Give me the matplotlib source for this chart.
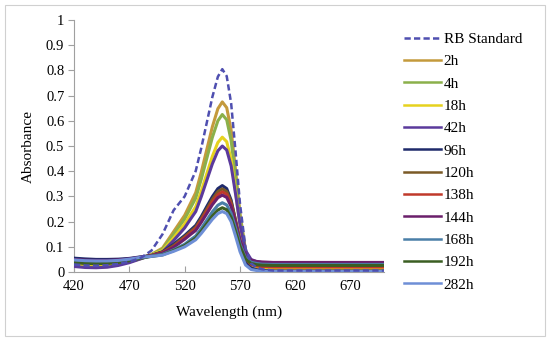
import matplotlib
matplotlib.use("Agg")
import matplotlib.pyplot as plt
from matplotlib.patches import Rectangle

wavelength = [420, 430, 440, 450, 460, 470, 480, 490, 500, 510, 520, 525, 530, 535, 540,
              545, 550, 554, 558, 562, 566, 570, 575, 580, 585, 590, 600, 650, 700]

rb_standard = [0.030, 0.026, 0.025, 0.027, 0.032, 0.041, 0.055, 0.085, 0.150, 0.245, 0.300, 0.351, 0.401, 0.492, 0.593,
               0.694, 0.775, 0.805, 0.777, 0.669, 0.477, 0.270, 0.094, 0.034, 0.018, 0.011, 0.006, 0.006, 0.006]
h2 = [0.035, 0.031, 0.030, 0.031, 0.035, 0.043, 0.054, 0.070, 0.095, 0.160, 0.225, 0.270, 0.315, 0.396, 0.486,
      0.576, 0.648, 0.675, 0.652, 0.562, 0.404, 0.231, 0.086, 0.036, 0.023, 0.017, 0.013, 0.013, 0.013]
h4 = [0.030, 0.026, 0.025, 0.027, 0.032, 0.041, 0.053, 0.069, 0.090, 0.150, 0.210, 0.252, 0.293, 0.368, 0.451,
      0.534, 0.600, 0.625, 0.604, 0.521, 0.375, 0.217, 0.083, 0.037, 0.025, 0.020, 0.016, 0.016, 0.016]
h18 = [0.028, 0.024, 0.023, 0.025, 0.030, 0.040, 0.053, 0.068, 0.085, 0.135, 0.190, 0.225, 0.259, 0.321, 0.390,
       0.459, 0.514, 0.535, 0.517, 0.446, 0.320, 0.183, 0.068, 0.028, 0.018, 0.013, 0.010, 0.010, 0.010]
h42 = [0.022, 0.018, 0.017, 0.019, 0.026, 0.037, 0.052, 0.066, 0.080, 0.125, 0.175, 0.208, 0.240, 0.299, 0.364,
       0.429, 0.481, 0.500, 0.484, 0.421, 0.309, 0.188, 0.085, 0.050, 0.041, 0.037, 0.034, 0.034, 0.034]
h96 = [0.055, 0.052, 0.050, 0.050, 0.051, 0.054, 0.060, 0.066, 0.080, 0.110, 0.145, 0.165, 0.185, 0.220, 0.260,
       0.299, 0.331, 0.343, 0.331, 0.285, 0.204, 0.116, 0.041, 0.016, 0.009, 0.006, 0.004, 0.004, 0.004]
h120 = [0.040, 0.036, 0.035, 0.036, 0.039, 0.046, 0.055, 0.065, 0.078, 0.105, 0.140, 0.159, 0.178, 0.212, 0.250,
        0.288, 0.319, 0.330, 0.319, 0.278, 0.204, 0.124, 0.056, 0.033, 0.027, 0.024, 0.022, 0.022, 0.022]
h138 = [0.045, 0.042, 0.040, 0.041, 0.044, 0.049, 0.057, 0.065, 0.077, 0.100, 0.135, 0.153, 0.172, 0.205, 0.241,
        0.278, 0.307, 0.318, 0.308, 0.267, 0.196, 0.118, 0.053, 0.030, 0.024, 0.022, 0.020, 0.020, 0.020]
h144 = [0.050, 0.047, 0.046, 0.046, 0.048, 0.052, 0.059, 0.064, 0.075, 0.098, 0.130, 0.148, 0.165, 0.197, 0.232,
        0.267, 0.295, 0.305, 0.296, 0.260, 0.196, 0.126, 0.067, 0.047, 0.042, 0.040, 0.038, 0.038, 0.038]
h168 = [0.042, 0.039, 0.037, 0.038, 0.041, 0.047, 0.056, 0.063, 0.070, 0.088, 0.110, 0.127, 0.143, 0.173, 0.206,
        0.239, 0.265, 0.275, 0.266, 0.233, 0.175, 0.111, 0.057, 0.039, 0.034, 0.031, 0.030, 0.030, 0.030]
h192 = [0.038, 0.034, 0.033, 0.034, 0.038, 0.045, 0.055, 0.062, 0.068, 0.085, 0.105, 0.120, 0.135, 0.162, 0.192,
        0.222, 0.246, 0.255, 0.247, 0.216, 0.161, 0.102, 0.051, 0.034, 0.029, 0.027, 0.026, 0.026, 0.026]
h282 = [0.048, 0.045, 0.044, 0.044, 0.046, 0.051, 0.058, 0.062, 0.067, 0.082, 0.100, 0.114, 0.128, 0.153, 0.181,
        0.209, 0.232, 0.240, 0.232, 0.200, 0.142, 0.081, 0.028, 0.010, 0.006, 0.003, 0.002, 0.002, 0.002]

labels = ["RB Standard", "2h", "4h", "18h", "42h", "96h", "120h", "138h", "144h", "168h", "192h", "282h"]
series = [rb_standard, h2, h4, h18, h42, h96, h120, h138, h144, h168, h192, h282]
colors = ["#4F4FB0", "#C49A3C", "#8BB04A", "#E6D21E", "#5B3A9C", "#1F2A6B",
          "#7B5A26", "#C0392B", "#6B1F6B", "#4A7FA8", "#3B5E22", "#6E8FD6"]

x_ticks = [420, 470, 520, 570, 620, 670]
y_ticks = [0, 0.1, 0.2, 0.3, 0.4, 0.5, 0.6, 0.7, 0.8, 0.9, 1]
y_ticklabels = ["0", "0.1", "0.2", "0.3", "0.4", "0.5", "0.6", "0.7", "0.8", "0.9", "1"]

plt.rcParams['font.family'] = ['Liberation Serif', 'DejaVu Serif']

fig = plt.figure(figsize=(5.5, 3.41), dpi=100)
ax = fig.add_axes([0.1345, 0.2023, 0.5635, 0.739])

for i, (lab, ys, c) in enumerate(zip(labels, series, colors)):
    if i == 0:
        ax.plot(wavelength, ys, color=c, lw=1.8, ls=(0, (2.5, 1.3)), label=lab, zorder=5)
    else:
        ax.plot(wavelength, ys, color=c, lw=2.2, label=lab, zorder=4)

ax.set_xlim(420, 700)
ax.set_ylim(0, 1)
ax.set_xticks(x_ticks)
ax.set_xticklabels([str(t) for t in x_ticks])
ax.set_yticks(y_ticks)
ax.set_yticklabels(y_ticklabels)
ax.tick_params(axis='both', labelsize=10.5, colors='#000000', length=4, width=0.8)
ax.tick_params(axis='x', direction='in', color='#A0A0A0', pad=6)
ax.tick_params(axis='y', direction='out', color='#A0A0A0', pad=3)
for s in ['top', 'right']:
    ax.spines[s].set_visible(False)
for s in ['left', 'bottom']:
    ax.spines[s].set_color('#A0A0A0')
    ax.spines[s].set_linewidth(0.8)

ax.set_xlabel("Wavelength (nm)", fontsize=11, labelpad=9)
ax.set_ylabel("Absorbance", fontsize=11, labelpad=8)

leg = fig.legend(loc='upper left', bbox_to_anchor=(0.734, 0.905), frameon=False,
                 fontsize=11, handlelength=2.42, handletextpad=0.2, labelspacing=0.565,
                 borderaxespad=0, borderpad=0)
for h in leg.get_lines():
    h.set_linewidth(1.8)

fig.patches.append(Rectangle((5 / 550, 5 / 341), 540 / 550, 331 / 341, transform=fig.transFigure,
                             fill=False, edgecolor='#D0D0D0', lw=0.8))

fig.savefig("out.png", dpi=100)
